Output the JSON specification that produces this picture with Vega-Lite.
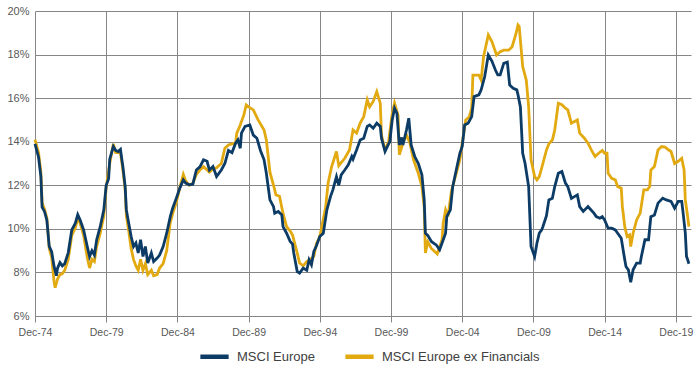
{
  "$schema": "https://vega.github.io/schema/vega-lite/v6.json",
  "autosize": {"type": "none"},
  "width": 656,
  "height": 305,
  "padding": {"left": 35, "top": 11, "right": 9, "bottom": 55},
  "background": "white",
  "config": {
    "font": "Liberation Sans",
    "view": {"stroke": null},
    "axis": {"gridColor": "#868686", "gridWidth": 1, "domainColor": "#868686", "tickColor": "#868686", "labelColor": "#595959", "labelFont": "Liberation Sans"}
  },
  "datasets": {
    "blue": [
      {"d":"1974-12","v":13.9},{"d":"1975-03","v":13.3},{"d":"1975-05","v":12.4},{"d":"1975-06","v":11.0},{"d":"1975-08","v":10.8},{"d":"1975-10","v":10.4},{"d":"1975-12","v":9.2},{"d":"1976-02","v":8.95},{"d":"1976-04","v":8.3},{"d":"1976-06","v":7.85},{"d":"1976-07","v":8.2},{"d":"1976-09","v":8.45},{"d":"1976-11","v":8.3},{"d":"1977-01","v":8.4},{"d":"1977-04","v":8.9},{"d":"1977-07","v":9.95},{"d":"1977-10","v":10.26},{"d":"1977-12","v":10.65},{"d":"1978-02","v":10.4},{"d":"1978-05","v":9.95},{"d":"1978-08","v":9.2},{"d":"1978-10","v":8.73},{"d":"1978-12","v":9.0},{"d":"1979-02","v":8.8},{"d":"1979-04","v":9.5},{"d":"1979-07","v":10.1},{"d":"1979-10","v":10.87},{"d":"1979-12","v":12.0},
      {"d":"1980-02","v":12.3},{"d":"1980-03","v":13.2},{"d":"1980-06","v":13.78},{"d":"1980-08","v":13.6},{"d":"1980-10","v":13.55},{"d":"1980-12","v":13.65},{"d":"1981-01","v":13.24},{"d":"1981-02","v":12.86},{"d":"1981-04","v":11.94},{"d":"1981-05","v":10.87},{"d":"1981-07","v":10.26},{"d":"1981-09","v":9.65},{"d":"1981-11","v":9.19},{"d":"1982-01","v":9.35},{"d":"1982-03","v":8.89},{"d":"1982-05","v":9.5},{"d":"1982-07","v":8.73},{"d":"1982-09","v":9.19},{"d":"1982-11","v":8.43},{"d":"1983-02","v":8.89},{"d":"1983-04","v":8.5},{"d":"1983-07","v":8.66},{"d":"1983-09","v":8.8},{"d":"1983-12","v":9.19},{"d":"1984-03","v":9.8},{"d":"1984-06","v":10.56},{"d":"1984-08","v":10.95},{"d":"1984-11","v":11.4},
      {"d":"1985-02","v":11.87},{"d":"1985-05","v":12.25},{"d":"1985-07","v":12.1},{"d":"1985-10","v":12.02},{"d":"1986-01","v":12.05},{"d":"1986-04","v":12.7},{"d":"1986-07","v":12.85},{"d":"1986-10","v":13.17},{"d":"1987-01","v":13.1},{"d":"1987-03","v":12.7},{"d":"1987-06","v":12.86},{"d":"1987-09","v":12.4},{"d":"1988-01","v":12.7},{"d":"1988-04","v":13.0},{"d":"1988-07","v":13.6},{"d":"1988-10","v":13.5},{"d":"1989-01","v":13.93},{"d":"1989-03","v":14.08},{"d":"1989-05","v":13.7},{"d":"1989-06","v":14.39},{"d":"1989-09","v":14.7},{"d":"1990-01","v":14.77},{"d":"1990-04","v":14.3},{"d":"1990-07","v":14.16},{"d":"1990-10","v":13.6},{"d":"1991-01","v":13.17},{"d":"1991-03","v":12.55},{"d":"1991-06","v":11.33},{"d":"1991-09","v":11.02},{"d":"1991-10","v":10.72},{"d":"1992-01","v":10.8},{"d":"1992-04","v":10.64},{"d":"1992-05","v":10.1},{"d":"1992-08","v":9.8},{"d":"1992-11","v":9.42},{"d":"1993-01","v":9.3},{"d":"1993-02","v":8.89},{"d":"1993-05","v":8.04},{"d":"1993-07","v":7.97},{"d":"1993-10","v":8.2},{"d":"1994-01","v":8.1},{"d":"1994-03","v":8.58},{"d":"1994-05","v":8.35},{"d":"1994-07","v":8.96},{"d":"1994-09","v":9.2},{"d":"1994-12","v":9.65},
      {"d":"1995-03","v":9.8},{"d":"1995-06","v":10.87},{"d":"1995-09","v":11.48},{"d":"1995-11","v":11.79},{"d":"1996-02","v":12.4},{"d":"1996-04","v":12.0},{"d":"1996-06","v":12.48},{"d":"1996-09","v":12.7},{"d":"1996-12","v":12.94},{"d":"1997-03","v":13.32},{"d":"1997-04","v":13.2},{"d":"1997-07","v":13.62},{"d":"1997-10","v":14.08},{"d":"1998-01","v":14.16},{"d":"1998-04","v":14.7},{"d":"1998-06","v":14.77},{"d":"1998-09","v":14.62},{"d":"1998-12","v":14.85},{"d":"1999-03","v":14.7},{"d":"1999-04","v":14.16},{"d":"1999-07","v":13.55},{"d":"1999-10","v":13.9},{"d":"1999-11","v":14.0},{"d":"2000-01","v":15.0},{"d":"2000-03","v":15.54},{"d":"2000-05","v":15.3},{"d":"2000-07","v":13.85},{"d":"2000-09","v":14.2},{"d":"2000-10","v":13.85},{"d":"2001-01","v":14.54},{"d":"2001-03","v":15.08},{"d":"2001-05","v":13.85},{"d":"2001-08","v":13.32},{"d":"2001-11","v":13.0},{"d":"2002-02","v":12.48},{"d":"2002-04","v":11.33},{"d":"2002-05","v":9.8},{"d":"2002-07","v":9.7},{"d":"2002-10","v":9.42},{"d":"2003-01","v":9.3},{"d":"2003-02","v":9.27},{"d":"2003-05","v":9.04},{"d":"2003-07","v":9.34},{"d":"2003-10","v":9.8},{"d":"2003-11","v":10.56},{"d":"2004-02","v":10.87},{"d":"2004-04","v":11.94},{"d":"2004-07","v":12.7},{"d":"2004-10","v":13.47},{"d":"2004-12","v":13.78},
      {"d":"2005-02","v":14.77},{"d":"2005-05","v":14.85},{"d":"2005-08","v":15.15},{"d":"2005-10","v":16.07},{"d":"2006-02","v":16.15},{"d":"2006-04","v":16.38},{"d":"2006-07","v":16.99},{"d":"2006-10","v":17.98},{"d":"2007-01","v":17.7},{"d":"2007-04","v":17.29},{"d":"2007-06","v":17.07},{"d":"2007-08","v":17.07},{"d":"2007-11","v":17.6},{"d":"2008-02","v":17.65},{"d":"2008-04","v":16.6},{"d":"2008-07","v":16.45},{"d":"2008-10","v":16.38},{"d":"2008-11","v":16.15},{"d":"2009-01","v":15.6},{"d":"2009-03","v":13.47},{"d":"2009-05","v":13.0},{"d":"2009-08","v":11.94},{"d":"2009-10","v":9.19},{"d":"2010-01","v":8.73},{"d":"2010-03","v":9.34},{"d":"2010-05","v":9.8},{"d":"2010-07","v":9.95},{"d":"2010-08","v":10.1},{"d":"2010-11","v":10.6},{"d":"2011-01","v":11.33},{"d":"2011-04","v":11.4},{"d":"2011-06","v":11.94},{"d":"2011-09","v":12.55},{"d":"2011-12","v":12.63},{"d":"2012-03","v":12.1},{"d":"2012-05","v":11.94},{"d":"2012-08","v":11.4},{"d":"2013-01","v":11.56},{"d":"2013-03","v":11.02},{"d":"2013-06","v":10.8},{"d":"2013-10","v":11.02},{"d":"2013-12","v":10.9},{"d":"2014-03","v":10.72},{"d":"2014-05","v":10.56},{"d":"2014-08","v":10.49},{"d":"2014-10","v":10.56},{"d":"2014-12","v":10.41},
      {"d":"2015-03","v":10.03},{"d":"2015-06","v":10.03},{"d":"2015-09","v":9.95},{"d":"2015-11","v":9.8},{"d":"2016-02","v":9.57},{"d":"2016-05","v":8.58},{"d":"2016-06","v":8.27},{"d":"2016-08","v":8.12},{"d":"2016-10","v":7.55},{"d":"2016-12","v":8.12},{"d":"2017-03","v":8.43},{"d":"2017-06","v":8.43},{"d":"2017-07","v":8.73},{"d":"2017-10","v":9.5},{"d":"2018-01","v":9.5},{"d":"2018-03","v":10.56},{"d":"2018-06","v":10.64},{"d":"2018-09","v":11.18},{"d":"2019-01","v":11.41},{"d":"2019-04","v":11.33},{"d":"2019-08","v":11.26},{"d":"2019-11","v":10.95},{"d":"2020-02","v":11.26},{"d":"2020-05","v":11.26},{"d":"2020-06","v":10.8},{"d":"2020-08","v":9.8},{"d":"2020-09","v":8.73},{"d":"2020-10","v":8.58},{"d":"2020-11","v":8.4}
    ],
    "gold": [
      {"d":"1974-12","v":14.1},{"d":"1975-03","v":13.5},{"d":"1975-05","v":12.6},{"d":"1975-06","v":11.2},{"d":"1975-08","v":10.9},{"d":"1975-10","v":10.5},{"d":"1975-12","v":9.1},{"d":"1976-02","v":8.7},{"d":"1976-04","v":7.6},{"d":"1976-05","v":7.3},{"d":"1976-07","v":7.7},{"d":"1976-09","v":7.9},{"d":"1976-11","v":7.95},{"d":"1977-01","v":8.1},{"d":"1977-04","v":8.6},{"d":"1977-07","v":9.7},{"d":"1977-10","v":10.05},{"d":"1977-12","v":10.5},{"d":"1978-02","v":10.25},{"d":"1978-05","v":9.7},{"d":"1978-08","v":8.7},{"d":"1978-10","v":8.2},{"d":"1978-12","v":8.6},{"d":"1979-02","v":8.5},{"d":"1979-04","v":9.2},{"d":"1979-07","v":9.8},{"d":"1979-10","v":10.6},{"d":"1979-12","v":11.9},
      {"d":"1980-03","v":13.0},{"d":"1980-06","v":13.9},{"d":"1980-08","v":13.5},{"d":"1980-10","v":13.5},{"d":"1980-12","v":13.5},{"d":"1981-01","v":13.1},{"d":"1981-02","v":12.7},{"d":"1981-04","v":11.8},{"d":"1981-05","v":10.6},{"d":"1981-07","v":9.9},{"d":"1981-09","v":9.1},{"d":"1981-11","v":8.6},{"d":"1982-01","v":8.3},{"d":"1982-03","v":8.1},{"d":"1982-05","v":8.6},{"d":"1982-07","v":8.1},{"d":"1982-09","v":8.4},{"d":"1982-11","v":7.9},{"d":"1983-02","v":8.1},{"d":"1983-04","v":7.85},{"d":"1983-07","v":7.9},{"d":"1983-09","v":8.2},{"d":"1983-12","v":8.4},{"d":"1984-03","v":9.0},{"d":"1984-06","v":10.3},{"d":"1984-08","v":10.7},{"d":"1984-11","v":11.2},
      {"d":"1985-02","v":11.9},{"d":"1985-05","v":12.5},{"d":"1985-07","v":12.2},{"d":"1985-10","v":12.0},{"d":"1986-01","v":12.1},{"d":"1986-04","v":12.5},{"d":"1986-07","v":12.7},{"d":"1986-10","v":12.85},{"d":"1987-01","v":12.7},{"d":"1987-03","v":12.6},{"d":"1987-06","v":12.75},{"d":"1987-09","v":12.8},{"d":"1988-01","v":13.0},{"d":"1988-04","v":13.7},{"d":"1988-07","v":13.85},{"d":"1988-10","v":13.9},{"d":"1989-01","v":13.95},{"d":"1989-02","v":14.39},{"d":"1989-05","v":14.77},{"d":"1989-08","v":15.23},{"d":"1989-10","v":15.69},{"d":"1989-12","v":15.6},{"d":"1990-04","v":15.46},{"d":"1990-08","v":15.0},{"d":"1991-01","v":14.54},{"d":"1991-03","v":14.08},{"d":"1991-06","v":12.6},{"d":"1991-09","v":12.0},{"d":"1991-11","v":11.56},{"d":"1992-02","v":11.5},{"d":"1992-05","v":10.72},{"d":"1992-08","v":10.1},{"d":"1992-11","v":9.9},{"d":"1993-01","v":9.72},{"d":"1993-05","v":8.89},{"d":"1993-07","v":8.43},{"d":"1993-10","v":8.3},{"d":"1994-01","v":8.5},{"d":"1994-04","v":8.6},{"d":"1994-07","v":8.73},{"d":"1994-09","v":9.3},{"d":"1994-12","v":9.65},
      {"d":"1995-05","v":11.0},{"d":"1995-07","v":12.1},{"d":"1995-10","v":12.86},{"d":"1996-02","v":13.55},{"d":"1996-04","v":12.9},{"d":"1996-09","v":13.24},{"d":"1997-01","v":13.62},{"d":"1997-04","v":14.54},{"d":"1997-07","v":14.4},{"d":"1997-10","v":14.85},{"d":"1998-01","v":15.15},{"d":"1998-04","v":15.92},{"d":"1998-06","v":15.6},{"d":"1998-09","v":15.85},{"d":"1998-12","v":16.3},{"d":"1999-03","v":15.77},{"d":"1999-04","v":14.31},{"d":"1999-07","v":13.62},{"d":"1999-10","v":14.0},{"d":"2000-01","v":15.3},{"d":"2000-03","v":15.77},{"d":"2000-06","v":15.2},{"d":"2000-07","v":13.4},{"d":"2000-10","v":13.93},{"d":"2001-01","v":14.31},{"d":"2001-04","v":13.93},{"d":"2001-07","v":13.17},{"d":"2001-11","v":12.55},{"d":"2002-02","v":11.94},{"d":"2002-04","v":11.0},{"d":"2002-05","v":8.89},{"d":"2002-07","v":9.4},{"d":"2002-10","v":9.1},{"d":"2003-01","v":8.95},{"d":"2003-03","v":8.85},{"d":"2003-07","v":9.5},{"d":"2003-08","v":10.25},{"d":"2003-10","v":10.87},{"d":"2003-12","v":10.56},{"d":"2004-03","v":11.75},{"d":"2004-07","v":12.55},{"d":"2004-10","v":13.17},{"d":"2004-12","v":13.93},
      {"d":"2005-03","v":15.0},{"d":"2005-06","v":15.15},{"d":"2005-08","v":15.54},{"d":"2005-09","v":17.06},{"d":"2006-02","v":17.06},{"d":"2006-04","v":16.83},{"d":"2006-06","v":17.9},{"d":"2006-10","v":18.9},{"d":"2007-01","v":18.6},{"d":"2007-05","v":17.98},{"d":"2007-08","v":18.13},{"d":"2007-11","v":18.2},{"d":"2008-03","v":18.2},{"d":"2008-06","v":18.35},{"d":"2008-09","v":18.9},{"d":"2008-11","v":19.36},{"d":"2008-12","v":19.3},{"d":"2009-03","v":17.45},{"d":"2009-06","v":16.83},{"d":"2009-08","v":15.6},{"d":"2009-10","v":13.17},{"d":"2010-01","v":12.4},{"d":"2010-03","v":12.25},{"d":"2010-05","v":12.4},{"d":"2010-08","v":13.0},{"d":"2010-11","v":13.62},{"d":"2011-01","v":13.9},{"d":"2011-04","v":14.08},{"d":"2011-06","v":14.54},{"d":"2011-09","v":15.77},{"d":"2011-12","v":15.7},{"d":"2012-03","v":15.54},{"d":"2012-05","v":15.46},{"d":"2012-08","v":14.85},{"d":"2013-01","v":15.0},{"d":"2013-03","v":14.39},{"d":"2013-07","v":14.16},{"d":"2013-10","v":13.93},{"d":"2014-01","v":13.6},{"d":"2014-04","v":13.32},{"d":"2014-07","v":13.47},{"d":"2014-10","v":13.6},{"d":"2014-12","v":13.47},
      {"d":"2015-02","v":13.47},{"d":"2015-03","v":12.55},{"d":"2015-06","v":12.32},{"d":"2015-09","v":12.25},{"d":"2015-11","v":11.94},{"d":"2016-02","v":11.87},{"d":"2016-03","v":11.02},{"d":"2016-05","v":10.1},{"d":"2016-07","v":9.65},{"d":"2016-09","v":9.72},{"d":"2016-10","v":9.19},{"d":"2016-12","v":9.8},{"d":"2017-03","v":10.41},{"d":"2017-06","v":10.72},{"d":"2017-09","v":11.79},{"d":"2017-12","v":11.79},{"d":"2018-02","v":11.94},{"d":"2018-03","v":12.7},{"d":"2018-06","v":12.86},{"d":"2018-09","v":13.62},{"d":"2018-12","v":13.78},{"d":"2019-03","v":13.75},{"d":"2019-06","v":13.62},{"d":"2019-08","v":13.55},{"d":"2019-11","v":13.0},{"d":"2020-02","v":13.1},{"d":"2020-05","v":13.24},{"d":"2020-07","v":12.7},{"d":"2020-08","v":11.33},{"d":"2020-10","v":10.56},{"d":"2020-11","v":10.1}
    ]
  },
  "encoding": {
    "x": {
      "field": "d", "type": "temporal",
      "scale": {"type": "utc", "domain": [{"year": 1974, "month": 12, "date": 1, "utc": true}, {"year": 2020, "month": 12, "date": 25, "utc": true}]},
      "axis": {
        "title": null, "labelExpr": "utcFormat(datum.value, '%b-%y')",
        "values": [
          {"year": 1974, "month": 12, "date": 1, "utc": true},
          {"year": 1979, "month": 12, "date": 1, "utc": true},
          {"year": 1984, "month": 12, "date": 1, "utc": true},
          {"year": 1989, "month": 12, "date": 1, "utc": true},
          {"year": 1994, "month": 12, "date": 1, "utc": true},
          {"year": 1999, "month": 12, "date": 1, "utc": true},
          {"year": 2004, "month": 12, "date": 1, "utc": true},
          {"year": 2009, "month": 12, "date": 1, "utc": true},
          {"year": 2014, "month": 12, "date": 1, "utc": true},
          {"year": 2019, "month": 12, "date": 1, "utc": true}
        ],
        "grid": true, "tickSize": 6, "labelPadding": 5, "labelFontSize": 10.5, "labelFlush": false, "labelOverlap": false
      }
    },
    "y": {
      "field": "v", "type": "quantitative",
      "scale": {"domain": [6, 20], "nice": false, "zero": false},
      "axis": {"title": null, "values": [6, 8, 10, 12, 14, 16, 18, 20], "labelExpr": "datum.value + '%'", "domain": false, "ticks": false, "labelPadding": 6, "labelFontSize": 11, "grid": true}
    },
    "color": {
      "scale": {"domain": ["MSCI Europe", "MSCI Europe ex Financials"], "range": ["#0c3b66", "#e2aa10"]},
      "legend": {
        "title": null, "orient": "none", "direction": "horizontal", "legendX": 163, "legendY": 329,
        "symbolType": "stroke", "symbolSize": 800, "symbolStrokeWidth": 4.5, "labelFontSize": 13, "labelColor": "#404040", "columnPadding": 20, "labelOffset": 6
      }
    }
  },
  "layer": [
    {"data": {"name": "gold"}, "mark": {"type": "line", "strokeWidth": 2.8}, "encoding": {"color": {"datum": "MSCI Europe ex Financials"}}},
    {"data": {"name": "blue"}, "mark": {"type": "line", "strokeWidth": 2.8}, "encoding": {"color": {"datum": "MSCI Europe"}}}
  ]
}
